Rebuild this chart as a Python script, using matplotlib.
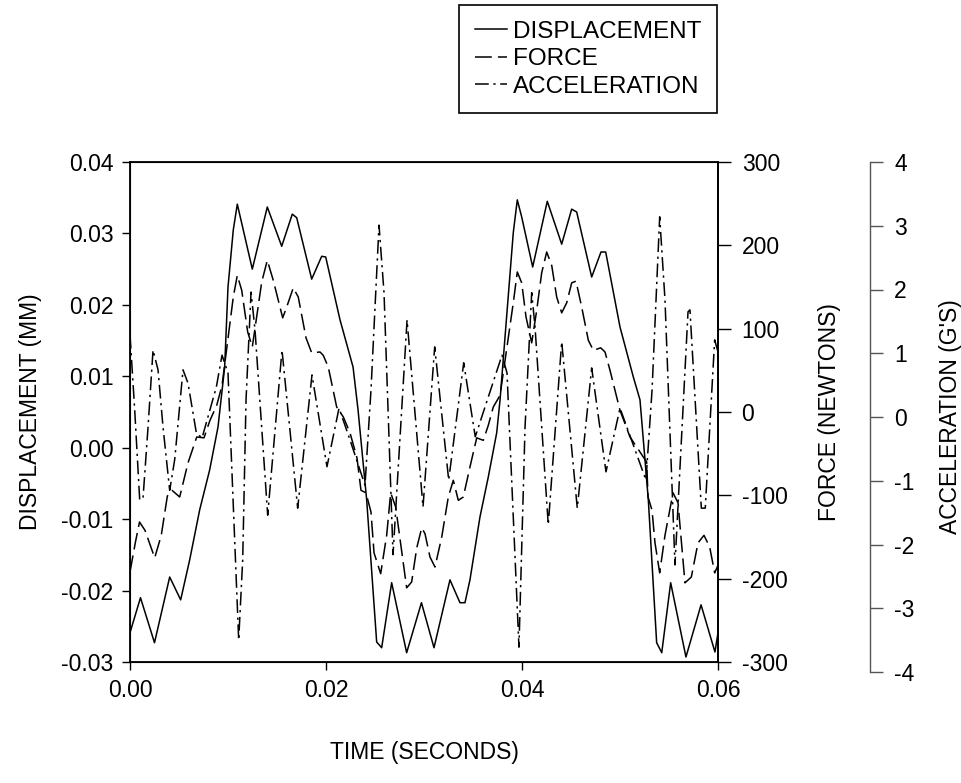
import numpy as np
import matplotlib
matplotlib.use('Agg')
import matplotlib.pyplot as plt
from matplotlib.ticker import FormatStrFormatter

plt.rcParams['font.family'] = ['Liberation Sans', 'DejaVu Sans']
plt.rcParams['axes.unicode_minus'] = False

# displacement (mm) vs time (ms)
t_disp = [0.00, 1.07, 2.50, 4.05, 5.17, 6.09, 7.11, 8.13, 8.98, 9.66, 10.00, 10.54, 10.95,
          12.48, 14.01, 15.48, 16.56, 17.01, 18.54, 19.56, 19.97, 21.43, 22.76, 23.27, 24.15,
          25.17, 25.68, 26.70, 28.23, 29.74, 31.02, 32.65, 33.67, 34.18, 34.69, 35.71, 36.56,
          37.42, 37.76, 39.11, 39.52, 39.97, 41.09, 42.58, 44.05, 45.07, 45.58, 47.11, 48.06,
          48.54, 50.00, 51.36, 52.04, 52.89, 53.74, 54.26, 55.17, 56.73, 58.27, 59.69, 60.00]
disp = [-0.0259, -0.0210, -0.0273, -0.0181, -0.0213, -0.0157, -0.0087, -0.0031, 0.0029, 0.0113,
        0.0225, 0.0305, 0.0341, 0.0250, 0.0337, 0.0282, 0.0327, 0.0322, 0.0236, 0.0268, 0.0267,
        0.0179, 0.0113, 0.0053, -0.0073, -0.0272, -0.0280, -0.0189, -0.0287, -0.0217, -0.0280,
        -0.0185, -0.0217, -0.0217, -0.0185, -0.0097, -0.0041, 0.0021, 0.0067, 0.0301, 0.0347,
        0.0323, 0.0253, 0.0345, 0.0285, 0.0334, 0.0330, 0.0239, 0.0274, 0.0274, 0.0169, 0.0099,
        0.0067, -0.0073, -0.0273, -0.0287, -0.0189, -0.0293, -0.0220, -0.0286, -0.0259]

# force (N)
t_force = [0.00, 0.54, 0.97, 1.53, 2.52, 3.19, 3.81, 4.29, 5.07, 5.92, 6.81, 7.55, 8.16, 8.85,
           9.39, 10.54, 10.95, 11.40, 12.01, 12.48, 13.44, 14.01, 14.62, 15.58, 15.99, 16.66,
           17.17, 17.96, 18.54, 19.39, 19.72, 20.23, 21.09, 21.77, 22.45, 23.16, 23.57, 24.08,
           24.59, 24.90, 25.58, 26.19, 26.60, 27.11, 28.23, 28.74, 29.26, 29.77, 30.10, 30.61,
           31.12, 31.81, 32.48, 32.99, 33.50, 34.01, 34.69, 35.38, 36.05, 36.56, 37.07, 37.76,
           39.11, 39.52, 39.97, 40.41, 40.99, 41.50, 42.01, 42.52, 43.03, 43.54, 44.05, 44.56,
           45.07, 45.51, 46.09, 46.77, 47.28, 48.03, 48.47, 48.98, 50.00, 51.02, 52.04, 52.72,
           52.86, 53.27, 53.57, 54.05, 54.59, 55.41, 55.92, 56.63, 57.28, 57.96, 58.57, 59.15,
           59.66, 60.00]
force = [-192, -157, -132, -142, -175, -148, -101, -94, -102, -61, -30, -31, -10, 8,
         32, 138, 164, 146, 96, 78, 156, 182, 158, 113, 126, 149,
         138, 89, 71, 72, 68, 54, 6, -6, -25, -55, -94, -97,
         -120, -169, -194, -148, -97, -114, -211, -204, -163, -139, -146, -174,
         -186, -150, -102, -82, -106, -102, -66, -31, -34, -16, 6, 20,
         131, 168, 155, 114, 83, 122, 167, 192, 176, 138, 119, 131,
         155, 157, 126, 86, 74, 77, 72, 50, 2, -30, -48, -60,
         -102, -118, -157, -193, -148, -97, -109, -205, -198, -157, -148, -162,
         -193, -184]

# acceleration (G's)
t_acc = [0.00, 0.48, 0.99, 1.33, 1.84, 2.35, 2.86, 3.37, 4.05, 4.56, 5.41, 5.92, 6.77, 7.35,
         8.81, 9.39, 10.00, 11.09, 11.50, 11.84, 12.35, 12.76, 14.05, 15.51, 17.11, 18.57,
         20.10, 21.33, 22.45, 23.98, 24.59, 25.41, 25.92, 26.84, 28.27, 29.90, 31.09, 32.52,
         34.05, 35.23, 37.96, 38.47, 39.69, 40.31, 40.99, 41.33, 42.68, 44.05, 45.64, 47.11,
         48.57, 50.00, 52.65, 53.27, 54.05, 54.59, 55.61, 56.94, 57.14, 58.30, 58.70, 59.66,
         60.00]
acc = [1.29, 0.11, -1.30, -1.27, -0.16, 1.05, 0.74, -0.16, -1.15, -0.67, 0.74, 0.53, -0.25, -0.33,
       0.47, 0.97, 0.69, -3.50, -2.24, 0.27, 1.96, 1.36, -1.54, 1.05, -1.43, 0.66,
       -0.78, 0.14, -0.36, -1.07, 0.42, 3.01, 1.95, -2.16, 1.52, -1.41, 1.10, -0.99,
       0.85, -0.31, 0.97, 0.69, -3.61, -0.16, 1.95, 1.41, -1.69, 1.18, -1.43, 0.77,
       -0.86, 0.14, -0.99, 0.42, 3.14, 1.84, -2.32, 1.65, 1.68, -1.43, -1.43, 1.21,
       1.02]

W, H = 962, 783
fig = plt.figure(figsize=(W / 100, H / 100), dpi=100)

# main axes: x 130..718 px, y 162..662 px
L, R, T, B = 130 / W, 718 / W, 1 - 162 / H, 1 - 662 / H
ax = fig.add_axes([L, B, R - L, T - B])
# third axis: spine at x 870, y 162..672
A3B = 1 - 672 / H
ax3 = fig.add_axes([870 / W, A3B, 0.0005, T - A3B])

fs = 16.5
lw = 1.1
ax.plot(np.array(t_disp) / 1000, disp, color='black', lw=lw, label='DISPLACEMENT')
ax.set_xlim(0, 0.06)
ax.set_ylim(-0.03, 0.04)
ax.set_xticks([0.0, 0.02, 0.04, 0.06])
ax.set_yticks(np.arange(-0.03, 0.0401, 0.01))
ax.xaxis.set_major_formatter(FormatStrFormatter('%.2f'))
ax.yaxis.set_major_formatter(FormatStrFormatter('%.2f'))
ax.tick_params(direction='out', length=6, width=1, labelsize=fs, pad=6)
ax.set_xlabel('TIME (SECONDS)', fontsize=fs, labelpad=28)
ax.set_ylabel('DISPLACEMENT (MM)', fontsize=fs, labelpad=14)
for s in ax.spines.values():
    s.set_linewidth(1.3)

axf = ax.twinx()
axf.plot(np.array(t_force) / 1000, force, color='black', lw=lw,
         dashes=(11, 4), label='FORCE')
axf.set_ylim(-300, 300)
axf.set_yticks(range(-300, 301, 100))
axf.tick_params(direction='out', length=9, width=1, labelsize=fs, pad=8)
axf.set_ylabel('FORCE (NEWTONS)', fontsize=fs, labelpad=22)
axf.spines['right'].set_linewidth(1.3)

# acceleration drawn over the main area, scaled to the third axis
acc_low = 4 - 8 * (T - B) / (T - A3B)
axa = ax.twinx()
axa.plot(np.array(t_acc) / 1000, acc, color='black', lw=lw,
         dashes=(9, 3, 1.5, 3), label='ACCELERATION')
axa.set_ylim(acc_low, 4)
axa.axis('off')

ax3.set_ylim(-4, 4)
ax3.set_yticks(range(-4, 5))
ax3.yaxis.tick_right()
ax3.yaxis.set_label_position('right')
ax3.set_xticks([])
for k in ['left', 'top', 'bottom']:
    ax3.spines[k].set_visible(False)
ax3.spines['right'].set_color('#555555')
ax3.spines['right'].set_linewidth(1.0)
ax3.tick_params(axis='y', direction='out', length=9, width=1, color='#555555',
                labelsize=fs, pad=8)
ax3.set_ylabel('ACCELERATION (G\'S)', fontsize=fs, labelpad=18)
ax3.patch.set_visible(False)

handles = ax.get_lines() + axf.get_lines() + axa.get_lines()
leg = fig.legend(handles, [h.get_label() for h in handles], loc='upper right',
                 bbox_to_anchor=(717 / W, 1 - 5 / H), fontsize=17.5, frameon=True,
                 fancybox=False, edgecolor='black', framealpha=1, handlelength=1.3,
                 handletextpad=0.25, labelspacing=0.22, borderpad=0.65, borderaxespad=0)
leg.get_frame().set_linewidth(1.2)

fig.savefig('out.png', dpi=100)
